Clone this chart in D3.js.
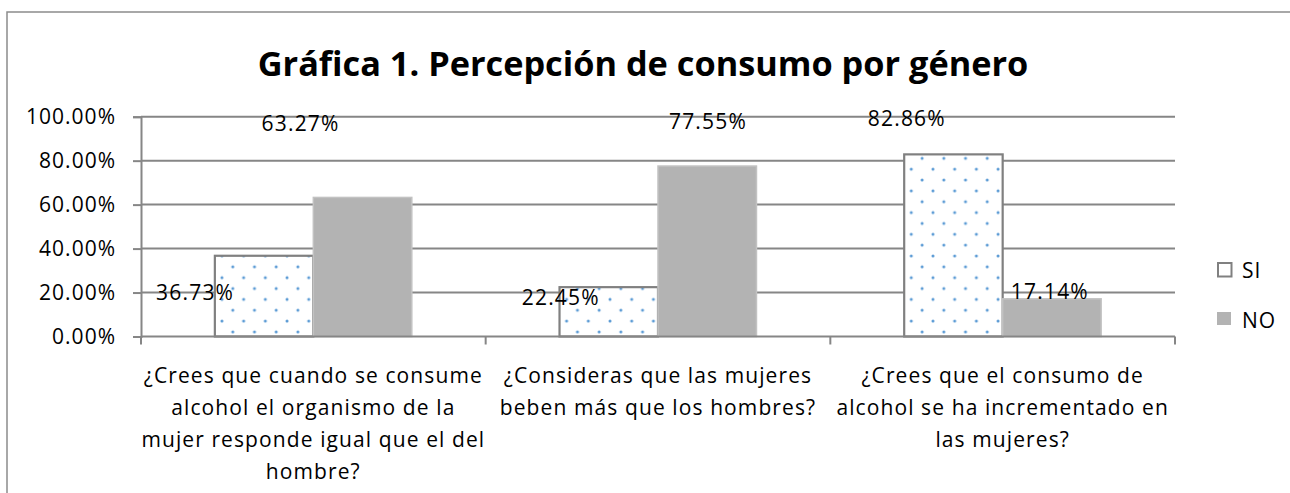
<!DOCTYPE html>
<html><head><meta charset="utf-8">
<script src="https://cdn.jsdelivr.net/npm/d3@7"></script>
<style>
html,body{margin:0;padding:0;background:#fff;}
text{font-family:"Open Sans",sans-serif;fill:#000;}
</style></head>
<body><svg id="chart" width="1290" height="493"></svg>
<script>
const title = "Gráfica 1. Percepción de consumo por género";
const categories = [
  "¿Crees que cuando se consume alcohol el organismo de la mujer responde igual que el del hombre?",
  "¿Consideras que las mujeres beben más que los hombres?",
  "¿Crees que el consumo de alcohol se ha incrementado en las mujeres?"
];
const categoryLines = [
  ["¿Crees que cuando se consume","alcohol el organismo de la","mujer responde igual que el del","hombre?"],
  ["¿Consideras que las mujeres","beben más que los hombres?"],
  ["¿Crees que el consumo de","alcohol se ha incrementado en","las mujeres?"]
];
const series = ["SI","NO"];
const valuesSI = [36.73, 22.45, 82.86];
const valuesNO = [63.27, 77.55, 17.14];
const yTicks = [0, 20, 40, 60, 80, 100];

// label placement (fraction of category band, value-space height) -- layout only
const labelPlacement = {
  SI: [[0.157, 20.2], [0.218, 18.0], [0.222, 99.4]],
  NO: [[0.463, 97.1], [0.645, 98.2], [0.637, 20.8]]
};

const svg = d3.select("#chart");
const m = {left:141, right:1175, top:116.7, bottom:336.5};

// outer frame
svg.append("rect").attr("x",7).attr("y",12).attr("width",1300).attr("height",520)
  .attr("fill","none").attr("stroke","#8c8c8c").attr("stroke-width",1.5);

// title
svg.append("text").attr("x",643).attr("y",62).attr("text-anchor","middle")
  .attr("dominant-baseline","central").attr("font-weight","bold").attr("font-size",34.3)
  .text(title);

const x0 = d3.scaleBand().domain(categories).range([m.left, m.right]).paddingInner(0).paddingOuter(0);
const x1 = d3.scaleBand().domain(series).range([0, x0.bandwidth()]).paddingInner(0).paddingOuter(0.75);
const y = d3.scaleLinear().domain([0,100]).range([m.bottom, m.top]);

const defs = svg.append("defs");
const pat = defs.append("pattern").attr("id","dots").attr("patternUnits","userSpaceOnUse")
  .attr("width",21.7).attr("height",21.7).attr("x",2).attr("y",0.5);
pat.append("rect").attr("width",21.7).attr("height",21.7).attr("fill","#fff");
pat.append("circle").attr("cx",3).attr("cy",6).attr("r",1.5).attr("fill","#5b9bd5");
pat.append("circle").attr("cx",13.85).attr("cy",16.85).attr("r",1.5).attr("fill","#5b9bd5");

// gridlines
svg.append("g").selectAll("line").data(yTicks.filter(d=>d>0)).join("line")
  .attr("x1",m.left).attr("x2",m.right).attr("y1",d=>y(d)).attr("y2",d=>y(d))
  .attr("stroke","#868686").attr("stroke-width",2);

// y axis
const yAxis = d3.axisLeft(y).tickValues(yTicks).tickSize(8).tickPadding(17)
  .tickFormat(d=>d3.format(".2f")(d)+"%");
const gy = svg.append("g").attr("transform",`translate(${m.left},0)`).call(yAxis);
gy.select(".domain").attr("stroke","#868686").attr("stroke-width",2);
gy.selectAll(".tick line").attr("stroke","#868686").attr("stroke-width",2);
gy.selectAll(".tick text").attr("font-family","'Open Sans',sans-serif").attr("font-size",21)
  .attr("letter-spacing",1.0).attr("fill","#000");

// bars
const data = categories.map((c,i)=>({cat:c, vals:[{s:"SI",v:valuesSI[i],i},{s:"NO",v:valuesNO[i],i}]}));
const groups = svg.append("g").selectAll("g").data(data).join("g")
  .attr("transform",d=>`translate(${x0(d.cat)},0)`);
groups.selectAll("rect").data(d=>d.vals).join("rect")
  .attr("x",d=>x1(d.s)).attr("width",x1.bandwidth())
  .attr("y",d=>y(d.v)).attr("height",d=>y(0)-y(d.v))
  .attr("fill",d=>d.s==="SI"?"url(#dots)":"#b3b3b3")
  .attr("stroke",d=>d.s==="SI"?"#808080":"#c2c2c2")
  .attr("stroke-width",d=>d.s==="SI"?2.2:1.5);

// x axis
svg.append("line").attr("x1",m.left).attr("x2",m.right).attr("y1",y(0)).attr("y2",y(0))
  .attr("stroke","#868686").attr("stroke-width",2);
const bounds = categories.map(c=>x0(c)).concat([m.right]);
svg.append("g").selectAll("line").data(bounds).join("line")
  .attr("x1",d=>d).attr("x2",d=>d).attr("y1",y(0)).attr("y2",y(0)+8)
  .attr("stroke","#868686").attr("stroke-width",2);

// category labels
categories.forEach((c,i)=>{
  const t = svg.append("text").attr("text-anchor","middle").attr("font-size",21)
    .attr("letter-spacing",1.1);
  categoryLines[i].forEach((ln,j)=>{
    t.append("tspan").attr("x",x0(c)+x0.bandwidth()/2).attr("y",375+j*32)
      .attr("dominant-baseline","central").text(ln);
  });
});

// data labels
const fmt = v=>d3.format(".2f")(v)+"%";
series.forEach(s=>{
  const vals = s==="SI"?valuesSI:valuesNO;
  svg.append("g").selectAll("text").data(vals).join("text")
    .attr("x",(d,i)=>x0(categories[i])+labelPlacement[s][i][0]*x0.bandwidth())
    .attr("y",(d,i)=>y(labelPlacement[s][i][1]))
    .attr("text-anchor","middle").attr("dominant-baseline","central")
    .attr("font-size",21).attr("letter-spacing",1.2).text(fmt);
});

// legend
const legend = svg.append("g");
const leg = [{s:"SI",y:262},{s:"NO",y:312}];
legend.selectAll("rect").data(leg).join("rect")
  .attr("x",d=>d.s==="SI"?1218:1217).attr("y",d=>d.s==="SI"?d.y+1:d.y)
  .attr("width",d=>d.s==="SI"?13.5:14).attr("height",d=>d.s==="SI"?13.5:13)
  .attr("fill",d=>d.s==="SI"?"#fff":"#b3b3b3")
  .attr("stroke",d=>d.s==="SI"?"#808080":"none").attr("stroke-width",2);
legend.selectAll("text").data(leg).join("text")
  .attr("x",1242).attr("y",d=>d.y+8).attr("dominant-baseline","central")
  .attr("font-size",21).attr("letter-spacing",1).text(d=>d.s);
</script></body></html>
